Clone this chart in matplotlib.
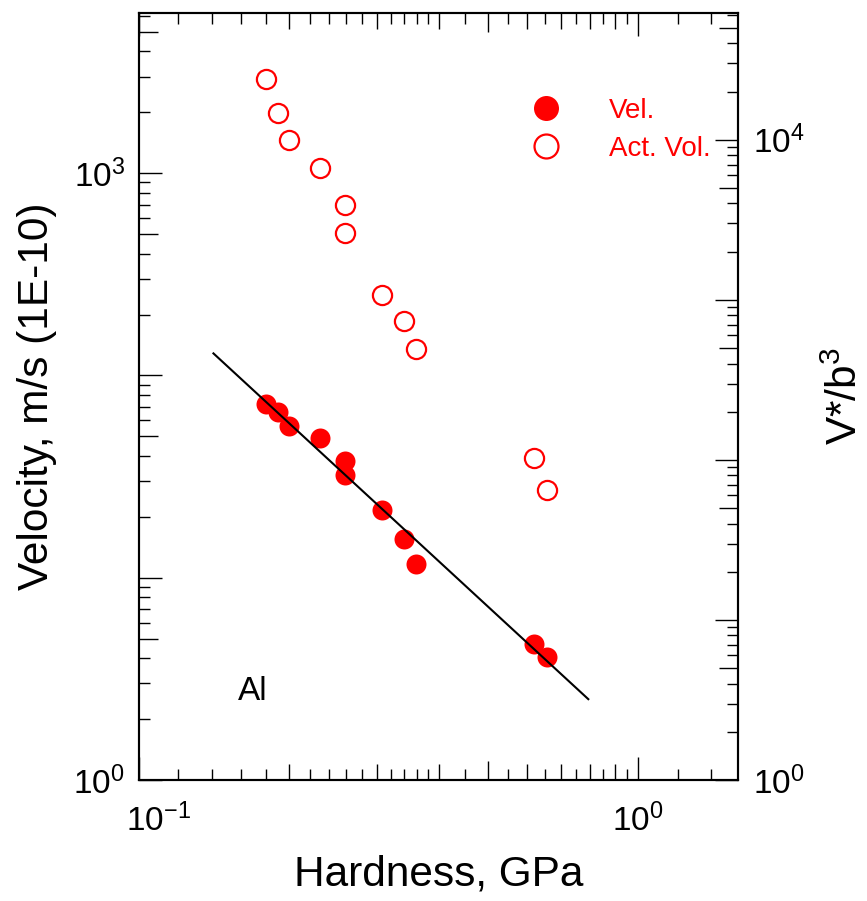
import numpy as np
import matplotlib
matplotlib.use("Agg")
import matplotlib.pyplot as plt
from matplotlib.ticker import FixedLocator, FixedFormatter, NullFormatter
from matplotlib.transforms import ScaledTranslation

plt.rcParams['font.family'] = 'Liberation Sans'
plt.rcParams['mathtext.fontset'] = 'custom'
plt.rcParams['mathtext.rm'] = 'Liberation Sans'
plt.rcParams['mathtext.it'] = 'Liberation Sans:italic'
plt.rcParams['mathtext.bf'] = 'Liberation Sans:bold'

# values
hardness = [0.180, 0.190, 0.200, 0.230, 0.259, 0.259, 0.307, 0.340, 0.359, 0.619, 0.657]
velocity = [72.2, 66.2, 56.2, 49.2, 37.9, 32.2, 21.7, 15.5, 11.7, 4.70, 4.06]
act_vol = [23950, 14680, 10000, 6680, 3925, 2622, 1075, 739, 494, 103, 65]

# fitted power law line (end points)
fit_h = [0.141, 0.795]
fit_v = [128.6, 2.51]

# tick positions / labels
x_major = [0.1, 0.2, 0.3, 0.4, 0.5, 0.6, 0.7, 0.8, 0.9, 1.0]
x_major_lab = ['$10^{-1}$', '', '', '', '', '', '', '', '', '$10^{0}$']
x_minor = [0.12, 0.14, 0.16, 0.18, 0.22, 0.24, 0.26, 0.28, 0.32, 0.34, 0.36, 0.38,
           0.45, 0.55, 0.65, 0.75, 0.85, 0.95, 1.2, 1.4]

yl_major = [1, 5, 10, 50, 100, 500, 1000, 5000]
yl_major_lab = ['$10^{0}$', '', '', '', '', '', '$10^{3}$', '']
yr_major = [1, 5, 10, 50, 100, 500, 1000, 5000, 10000, 50000]
yr_major_lab = ['$10^{0}$', '', '', '', '', '', '', '', '$10^{4}$', '']
mults = [2, 3, 4, 6, 7, 8, 9]
yl_minor = [m * d for d in [1, 10, 100, 1000] for m in mults if m * d < 6200]
yr_minor = [m * d for d in [1, 10, 100, 1000, 10000] for m in mults if m * d < 62000]

fig = plt.figure(figsize=(8.67, 9.01), dpi=100)
ax = fig.add_axes([0.1603, 0.1343, 0.6909, 0.8513])
ax2 = ax.twinx()

ax.set_xscale('log')
ax.set_yscale('log')
ax2.set_yscale('log')
ax.set_xlim(0.1, 1.586)
ax.set_ylim(1, 6200)
ax2.set_ylim(1, 62000)

red = '#ff0000'
l1, = ax.plot(hardness, velocity, 'o', color=red, ms=14.4, mew=0, label='Vel.')
ax.plot(fit_h, fit_v, '-', color='black', lw=1.5)
l2, = ax2.plot(hardness, act_vol, 'o', mfc='none', mec=red, mew=1.6, ms=13.8, label='Act. Vol.')

ax.text(0.165, 0.104, 'Al', transform=ax.transAxes, fontsize=24, va='baseline')

ax2.legend([l1, l2], ['Vel.', 'Act. Vol.'], loc='upper left', bbox_to_anchor=(0.652, 0.889),
           frameon=False, fontsize=20, labelcolor=red, handlelength=1.2, handletextpad=1.65,
           labelspacing=0.42, borderpad=0, borderaxespad=0, numpoints=1, markerscale=1.25)

# axis ticks
ax.xaxis.set_major_locator(FixedLocator(x_major))
ax.xaxis.set_major_formatter(FixedFormatter(x_major_lab))
ax.xaxis.set_minor_locator(FixedLocator(x_minor))
ax.xaxis.set_minor_formatter(NullFormatter())
ax.yaxis.set_major_locator(FixedLocator(yl_major))
ax.yaxis.set_major_formatter(FixedFormatter(yl_major_lab))
ax.yaxis.set_minor_locator(FixedLocator(yl_minor))
ax.yaxis.set_minor_formatter(NullFormatter())
ax2.yaxis.set_major_locator(FixedLocator(yr_major))
ax2.yaxis.set_major_formatter(FixedFormatter(yr_major_lab))
ax2.yaxis.set_minor_locator(FixedLocator(yr_minor))
ax2.yaxis.set_minor_formatter(NullFormatter())

ax.tick_params(axis='x', which='both', direction='in', top=True, bottom=True, width=1.0,
               labelsize=24, pad=17)
ax.tick_params(axis='y', which='both', direction='in', left=True, right=False, width=1.0,
               labelsize=24, pad=10)
ax2.tick_params(axis='y', which='both', direction='in', left=False, right=True, width=1.0,
                labelsize=24, pad=11)
ax.tick_params(which='minor', length=7.9)
ax2.tick_params(which='minor', length=7.9)

for a in (ax, ax2):
    for s in a.spines.values():
        s.set_linewidth(1.5)

ax.set_xlabel('Hardness, GPa', fontsize=30.5, labelpad=12)
ax.set_ylabel('Velocity, m/s (1E-10)', fontsize=30.5, labelpad=12)
ax2.set_ylabel('V*/b$^{3}$', fontsize=30.5, labelpad=15)

# per tick lengths: decades long, 5's medium, the rest shorter
for t, v in zip(ax.xaxis.get_major_ticks(), x_major):
    L = 16.6 if v in (0.1, 1.0) else (13.7 if v == 0.5 else 11.3)
    t.tick1line.set_markersize(L)
    t.tick2line.set_markersize(L)
for t, v in zip(ax.yaxis.get_major_ticks(), yl_major):
    L = 16.3 if np.log10(v) % 1 == 0 else 13.5
    t.tick1line.set_markersize(L)
for t, v in zip(ax2.yaxis.get_major_ticks(), yr_major):
    L = 16.3 if np.log10(v) % 1 == 0 else 13.5
    t.tick2line.set_markersize(L)

# the 10^-1 label sits a bit right of the corner in the original
first = ax.xaxis.get_major_ticks()[0].label1
first.set_transform(first.get_transform() + ScaledTranslation(0.19, 0, fig.dpi_scale_trans))

fig.savefig('out.png', dpi=100)
